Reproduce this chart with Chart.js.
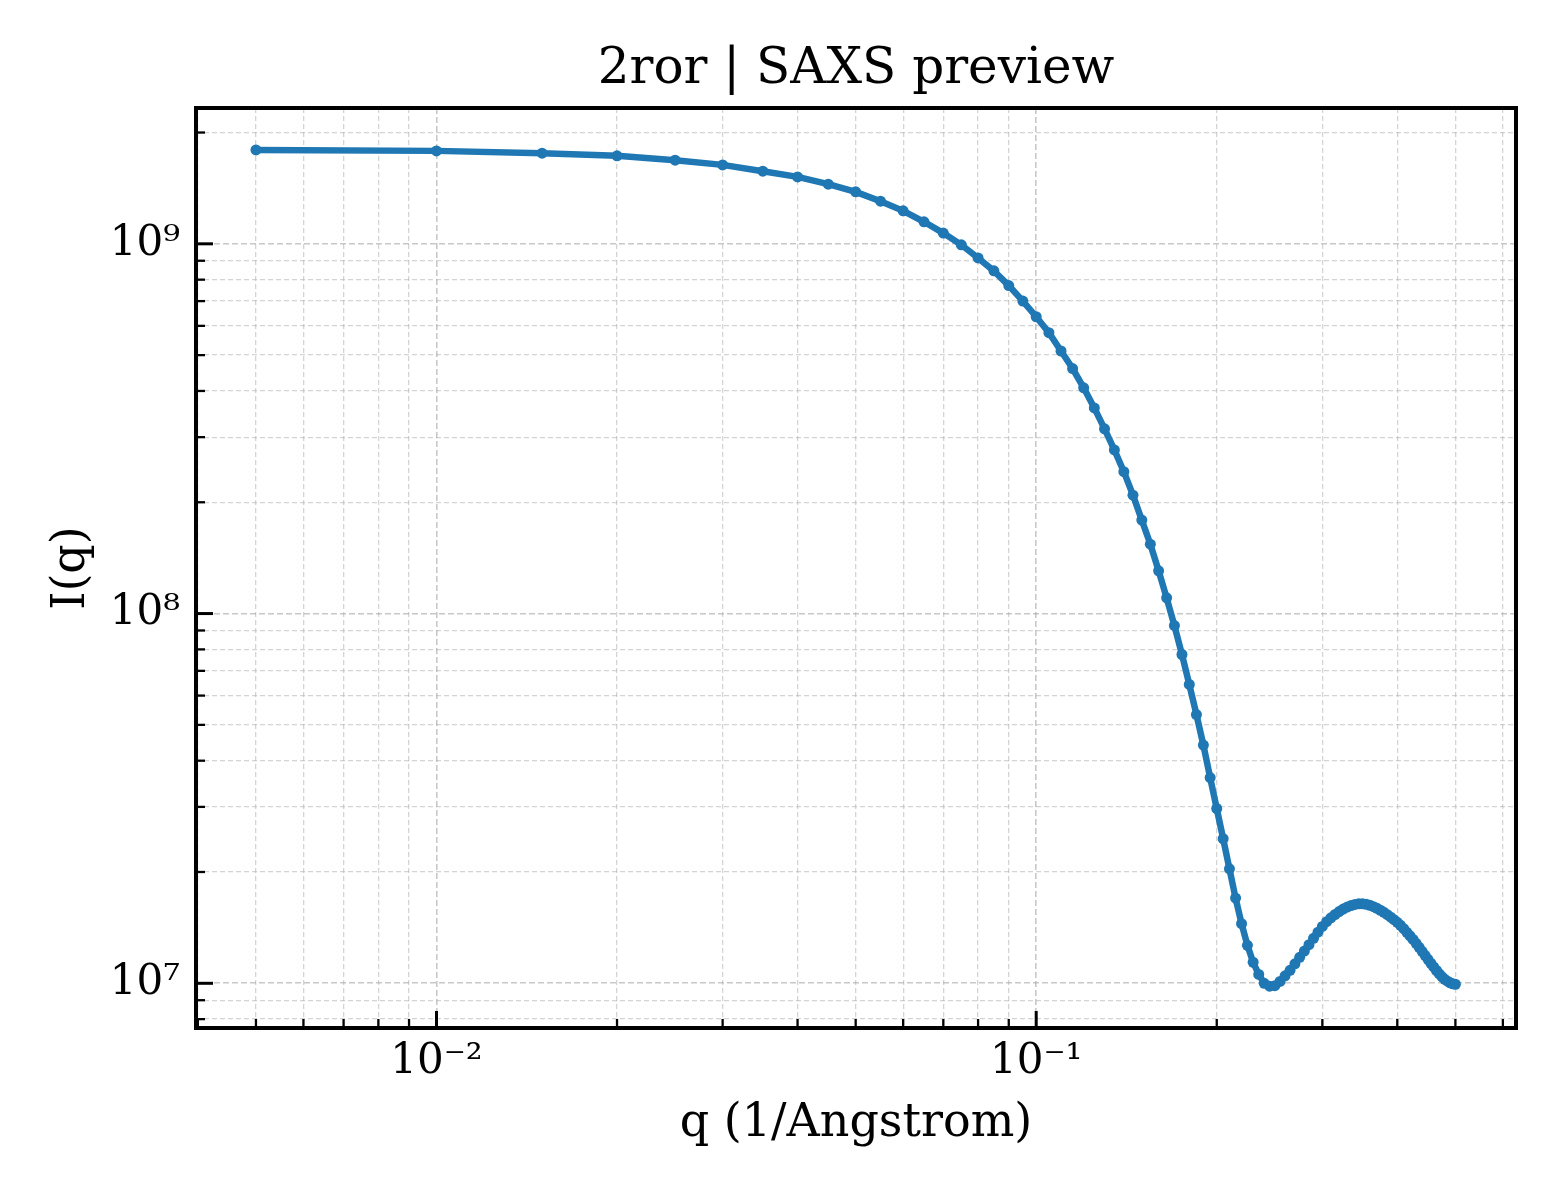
<!DOCTYPE html>
<html><head><meta charset="utf-8">
<script src="https://cdn.jsdelivr.net/npm/chart.js@4/dist/chart.umd.min.js"></script>
<style>html,body{margin:0;padding:0;background:#fff}#wrap{width:1560px;height:1200px}</style>
</head><body><div id="wrap"><canvas id="c" width="1560" height="1200"></canvas></div>
<script>
const titleText = '2ror | SAXS preview';
const xLabel = 'q (1/Angstrom)';
const yLabel = 'I(q)';

const qValues = [
  0.005,0.010,0.015,0.020,0.025,0.030,0.035,0.040,0.045,0.050,
  0.055,0.060,0.065,0.070,0.075,0.080,0.085,0.090,0.095,0.100,
  0.105,0.110,0.115,0.120,0.125,0.130,0.135,0.140,0.145,0.150,
  0.155,0.160,0.165,0.170,0.175,0.180,0.185,0.190,0.195,0.200,
  0.205,0.210,0.215,0.220,0.225,0.230,0.235,0.240,0.245,0.250,
  0.255,0.260,0.265,0.270,0.275,0.280,0.285,0.290,0.295,0.300,
  0.305,0.310,0.315,0.320,0.325,0.330,0.335,0.340,0.345,0.350,
  0.355,0.360,0.365,0.370,0.375,0.380,0.385,0.390,0.395,0.400,
  0.405,0.410,0.415,0.420,0.425,0.430,0.435,0.440,0.445,0.450,
  0.455,0.460,0.465,0.470,0.475,0.480,0.485,0.490,0.495,0.500
];
const intensity = [
  1.795e9,1.784e9,1.758e9,1.730e9,1.683e9,1.635e9,1.572e9,1.517e9,1.450e9,1.382e9,
  1.304e9,1.228e9,1.147e9,1.069e9,9.94e8,9.16e8,8.45e8,7.71e8,7.00e8,6.35e8,
  5.75e8,5.13e8,4.60e8,4.08e8,3.60e8,3.16e8,2.77e8,2.42e8,2.09e8,1.79e8,
  1.54e8,1.305e8,1.103e8,9.28e7,7.75e7,6.43e7,5.33e7,4.41e7,3.60e7,2.97e7,
  2.46e7,2.04e7,1.70e7,1.45e7,1.267e7,1.14e7,1.057e7,1.00e7,9.82e6,9.85e6,
  1.012e7,1.048e7,1.084e7,1.129e7,1.176e7,1.222e7,1.272e7,1.323e7,1.375e7,1.425e7,
  1.468e7,1.503e7,1.535e7,1.563e7,1.588e7,1.608e7,1.623e7,1.634e7,1.64e7,1.641e7,
  1.636e7,1.626e7,1.612e7,1.595e7,1.576e7,1.556e7,1.533e7,1.509e7,1.486e7,1.462e7,
  1.435e7,1.405e7,1.374e7,1.344e7,1.314e7,1.283e7,1.251e7,1.22e7,1.19e7,1.161e7,
  1.133e7,1.107e7,1.083e7,1.061e7,1.041e7,1.025e7,1.013e7,1.003e7,9.97e6,9.94e6
];

const xMin = 0.003972, xMax = 0.631;
const yMin = 7.57e6, yMax = 2.33e9;

const xMajorTicks = [0.01, 0.1];
const xTickLabels = ['10\u207B\u00B2', '10\u207B\u00B9'];
const xMinorTicks = [0.004,0.005,0.006,0.007,0.008,0.009,
  0.02,0.03,0.04,0.05,0.06,0.07,0.08,0.09,
  0.2,0.3,0.4,0.5,0.6];
const yMajorTicks = [1e7, 1e8, 1e9];
const yTickLabels = ['10\u2077', '10\u2078', '10\u2079'];
const yMinorTicks = [8e6,9e6,
  2e7,3e7,4e7,5e7,6e7,7e7,8e7,9e7,
  2e8,3e8,4e8,5e8,6e8,7e8,8e8,9e8,
  2e9];

const FONT = "'DejaVu Serif', 'Liberation Serif', serif";
const LINE_COLOR = '#1f77b4';

function buildTicks(major, minor) {
  return minor.map(v => ({value: v, major: false}))
    .concat(major.map(v => ({value: v, major: true})))
    .sort((a, b) => a.value - b.value);
}

const frameAndTicks = {
  id: 'frameAndTicks',
  afterDraw(chart) {
    const {ctx, chartArea: a} = chart;
    const xs = chart.scales.x, ys = chart.scales.y;
    ctx.save();
    ctx.strokeStyle = '#000';
    ctx.lineCap = 'butt';
    xs.ticks.forEach(t => {
      const px = xs.getPixelForValue(t.value);
      ctx.lineWidth = t.major ? 3 : 2.3;
      const len = t.major ? 17 : 9;
      ctx.beginPath();
      ctx.moveTo(px, a.bottom);
      ctx.lineTo(px, a.bottom - len);
      ctx.stroke();
    });
    ys.ticks.forEach(t => {
      const py = ys.getPixelForValue(t.value);
      ctx.lineWidth = t.major ? 3 : 2.3;
      const len = t.major ? 17 : 9;
      ctx.beginPath();
      ctx.moveTo(a.left, py);
      ctx.lineTo(a.left + len, py);
      ctx.stroke();
    });
    ctx.lineWidth = 4;
    ctx.strokeRect(a.left, a.top, a.right - a.left, a.bottom - a.top);
    ctx.restore();
  }
};

const gridColor = c => (c.tick && c.tick.major) ? 'rgba(170,170,170,0.65)' : 'rgba(170,170,170,0.5)';
const gridWidth = c => (c.tick && c.tick.major) ? 1.6 : 1.3;
const gridDash = c => (c.tick && c.tick.major) ? [6, 3] : [5, 3];

new Chart(document.getElementById('c'), {
  type: 'line',
  data: {
    datasets: [{
      data: qValues.map((q, i) => ({x: q, y: intensity[i]})),
      borderColor: LINE_COLOR,
      backgroundColor: LINE_COLOR,
      borderWidth: 6.5,
      pointRadius: 5.5,
      pointBorderWidth: 0,
      pointBackgroundColor: LINE_COLOR,
      tension: 0,
      fill: false
    }]
  },
  options: {
    responsive: false,
    devicePixelRatio: 1,
    animation: false,
    layout: {padding: {left: 0, right: 44, top: 0, bottom: 0}},
    plugins: {
      legend: {display: false},
      tooltip: {enabled: false},
      title: {
        display: true, text: titleText, fullSize: false, color: '#000',
        font: {family: FONT, size: 50, weight: 'normal', lineHeight: 1.2},
        padding: {top: 40, bottom: 8}
      }
    },
    scales: {
      x: {
        type: 'logarithmic', min: xMin, max: xMax, bounds: 'data',
        afterBuildTicks: s => { s.ticks = buildTicks(xMajorTicks, xMinorTicks); },
        afterFit: s => { s.height = 172; },
        ticks: {
          autoSkip: false, maxRotation: 0, minRotation: 0, padding: 9, color: '#000',
          font: {family: FONT, size: 42},
          callback: v => { const i = xMajorTicks.indexOf(v); return i >= 0 ? xTickLabels[i] : ''; }
        },
        grid: {drawTicks: false, color: gridColor, lineWidth: gridWidth},
        border: {display: false, dash: gridDash},
        title: {
          display: true, text: xLabel, color: '#000',
          font: {family: FONT, size: 46, weight: 'normal', lineHeight: 1.2},
          padding: {top: 0, bottom: 48}
        }
      },
      y: {
        type: 'logarithmic', min: yMin, max: yMax, bounds: 'data',
        afterBuildTicks: s => { s.ticks = buildTicks(yMajorTicks, yMinorTicks); },
        afterFit: s => { s.width = 196; },
        ticks: {
          autoSkip: false, padding: 16, color: '#000',
          font: {family: FONT, size: 42},
          callback: v => { const i = yMajorTicks.indexOf(v); return i >= 0 ? yTickLabels[i] : ''; }
        },
        grid: {drawTicks: false, color: gridColor, lineWidth: gridWidth},
        border: {display: false, dash: gridDash},
        title: {
          display: true, text: yLabel, color: '#000',
          font: {family: FONT, size: 46, weight: 'normal', lineHeight: 1.2},
          padding: {top: 44, bottom: 0}
        }
      }
    }
  },
  plugins: [frameAndTicks]
});
</script>
</body></html>
